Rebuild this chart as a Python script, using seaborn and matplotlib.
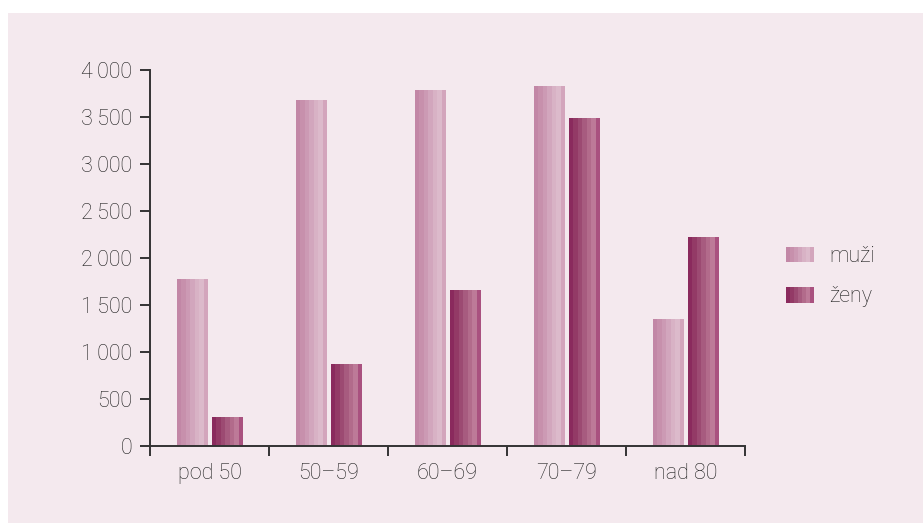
import matplotlib
matplotlib.use('Agg')
import matplotlib.pyplot as plt
from matplotlib.patches import Rectangle
from matplotlib.legend_handler import HandlerBase
from matplotlib.ticker import FixedLocator
import seaborn as sns
import pandas as pd
import numpy as np

# data
categories = ['pod 50', '50\u201359', '60\u201369', '70\u201379', 'nad 80']
muzi = [1770, 3680, 3780, 3820, 1350]
zeny = [300, 870, 1650, 3480, 2220]
series = ['mu\u017ei', '\u017eeny']
y_ticks = [0, 500, 1000, 1500, 2000, 2500, 3000, 3500, 4000]
y_labels = ['0', '500', '1\u2009000', '1\u2009500', '2\u2009000', '2\u2009500',
            '3\u2009000', '3\u2009500', '4\u2009000']

# vertical stripe shading of the bars
stripes = {
    'mu\u017ei': ['#c287a6', '#c790ac', '#cc9ab4', '#d2a6bd', '#d8b2c5', '#dcbacb', '#d3a5bc'],
    '\u017eeny': ['#8a2a5d', '#933a66', '#9c4a72', '#a75b7f', '#b26b8b', '#bd7a98', '#a9517f'],
}
BG = '#f4e9ee'
INK = '#1e1e1e'
FS = 15.5

df = pd.DataFrame({
    'skupina': categories * 2,
    'pohlavi': [series[0]] * len(categories) + [series[1]] * len(categories),
    'pocet': muzi + zeny,
})

sns.set_style('white')
plt.rcParams['font.family'] = ['Roboto', 'DejaVu Sans']
plt.rcParams['font.weight'] = 'light'

fig = plt.figure(figsize=(9.23, 5.23), dpi=100)
fig.patches.append(Rectangle((8 / 923, 0), 1, 1 - 13 / 523, transform=fig.transFigure,
                             facecolor=BG, edgecolor='none', zorder=-10))
ax = fig.add_axes([150 / 923, 1 - 446 / 523, 595 / 923, 376 / 523])
ax.set_facecolor('none')

sns.barplot(data=df, x='skupina', y='pocet', hue='pohlavi', order=categories,
            hue_order=series, width=0.59, gap=0.12, ax=ax, legend=False,
            palette=[stripes[s][2] for s in series], linewidth=0)

for cont, name in zip(ax.containers, series):
    cols = stripes[name]
    img = np.array([[matplotlib.colors.to_rgb(c) for c in cols]])
    for bar in cont:
        x0, y0 = bar.get_x(), bar.get_y()
        w, h = bar.get_width(), bar.get_height()
        ax.imshow(img, extent=(x0, x0 + w, y0, y0 + h), aspect='auto',
                  interpolation='nearest', zorder=2)
        bar.set_facecolor('none')

ax.set_xlim(-0.5, len(categories) - 0.5)
ax.set_ylim(0, 4000)
ax.set_yticks(y_ticks)
ax.set_yticklabels(y_labels)
ax.xaxis.set_minor_locator(FixedLocator(np.arange(-0.5, len(categories), 1.0)))
ax.tick_params(axis='x', which='major', length=0, pad=12, labelsize=FS,
               labelcolor=INK, bottom=True)
ax.tick_params(axis='x', which='minor', length=7, width=1.4, color='#333333',
               direction='out', bottom=True)
ax.tick_params(axis='y', length=7, width=1.4, color='#333333', pad=6,
               labelsize=FS, labelcolor=INK, left=True)
ax.set_xlabel('')
ax.set_ylabel('')
sns.despine(ax=ax)
for side in ['left', 'bottom']:
    ax.spines[side].set_color('#333333')
    ax.spines[side].set_linewidth(1.4)


class StripeHandler(HandlerBase):
    def __init__(self, cols):
        super().__init__()
        self.cols = cols

    def create_artists(self, legend, orig_handle, xdescent, ydescent,
                       width, height, fontsize, trans):
        n = len(self.cols)
        return [Rectangle((-xdescent + i * width / n, -ydescent), width / n, height,
                          facecolor=c, edgecolor='none', transform=trans)
                for i, c in enumerate(self.cols)]


handles = [Rectangle((0, 0), 1, 1) for _ in series]
fig.legend(handles, series, loc='upper left',
           bbox_to_anchor=(786 / 923, 1 - 246 / 523), frameon=False,
           handler_map={h: StripeHandler(stripes[s]) for h, s in zip(handles, series)},
           fontsize=FS, labelcolor=INK, handlelength=1.3, handleheight=0.75,
           handletextpad=0.7, labelspacing=0.9, borderpad=0, borderaxespad=0)

fig.savefig('out.png', dpi=100)
